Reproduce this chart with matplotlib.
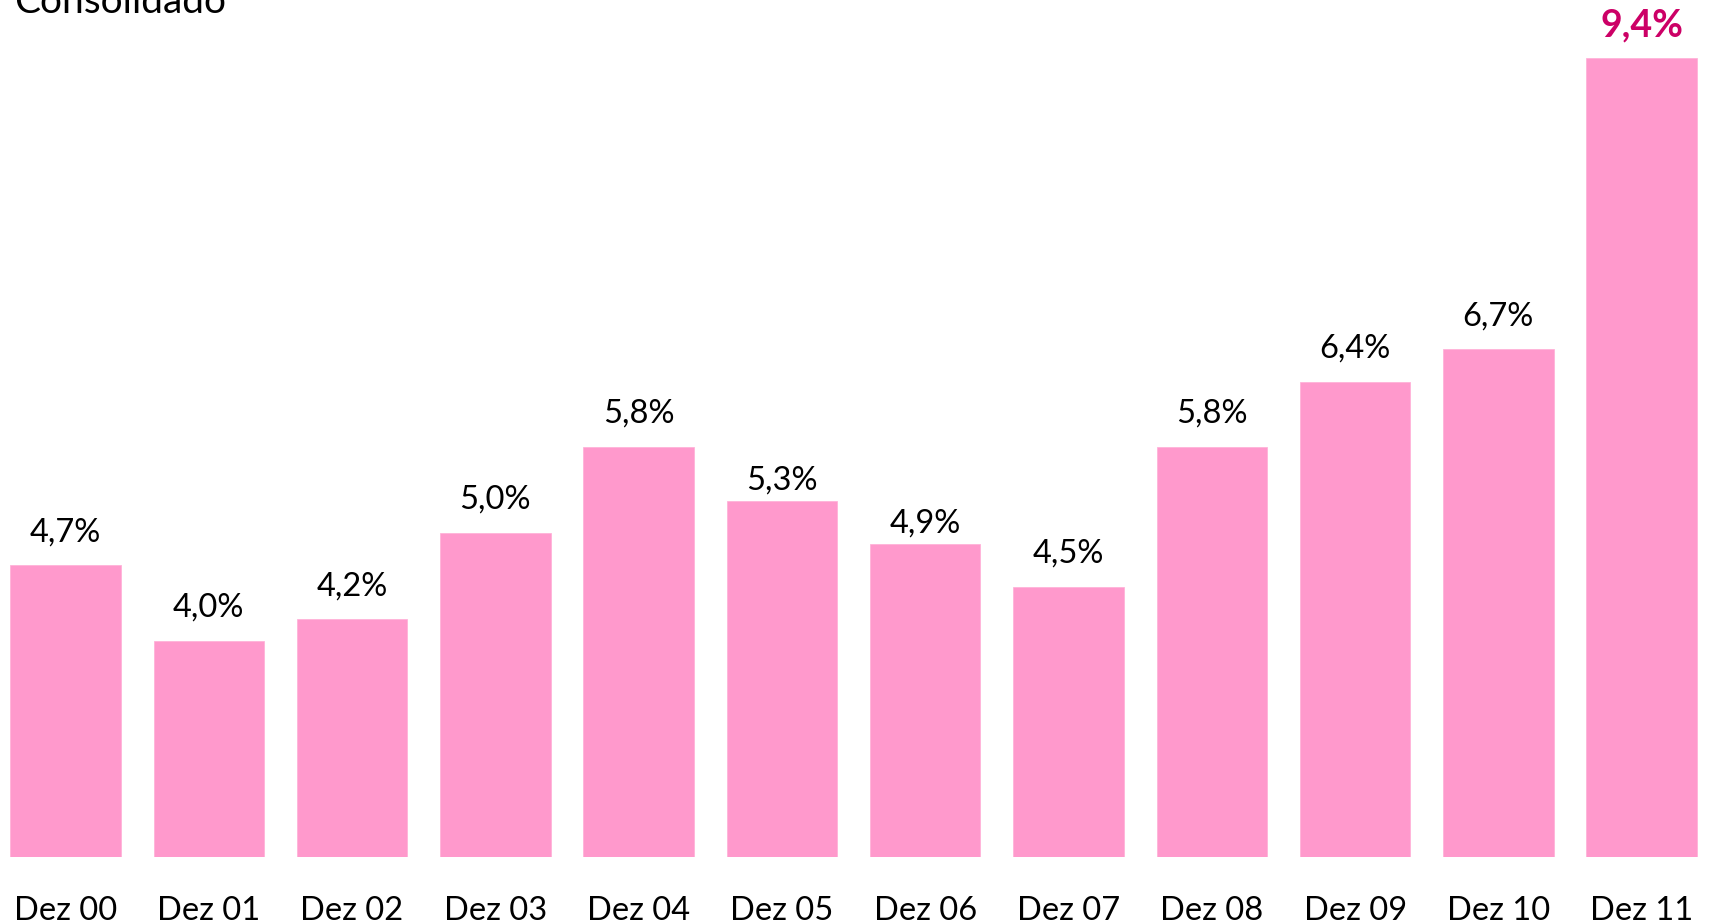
import matplotlib
matplotlib.use('Agg')
import matplotlib.pyplot as plt

plt.rcParams['font.family'] = ['Lato', 'DejaVu Sans']

categories = ['Dez 00', 'Dez 01', 'Dez 02', 'Dez 03', 'Dez 04', 'Dez 05',
              'Dez 06', 'Dez 07', 'Dez 08', 'Dez 09', 'Dez 10', 'Dez 11']
values = [4.7, 4.0, 4.2, 5.0, 5.8, 5.3, 4.9, 4.5, 5.8, 6.4, 6.7, 9.4]
labels = ['4,7%', '4,0%', '4,2%', '5,0%', '5,8%', '5,3%',
          '4,9%', '4,5%', '5,8%', '6,4%', '6,7%', '9,4%']

# label gap above each bar, in pixels (two sit lower in the original)
gaps = [24, 24, 24, 24, 24, 11, 11, 24, 24, 24, 24, 21]

W, H = 1709, 923
fig = plt.figure(figsize=(W / 100, H / 100), dpi=100)
ax = fig.add_axes([0, (H - 857) / H, 1, 857 / H])

x = range(len(categories))
ax.bar(x, values, width=0.77, color='#FF99CC', edgecolor='#FFB3D9', linewidth=0.6)
ax.set_xlim(-0.457, 11.47)
ax.set_ylim(2.0, 2.0 + 857 / 108)

for i, (v, lab) in enumerate(zip(values, labels)):
    if i == len(values) - 1:
        ax.annotate(lab, (i, v), xytext=(0, gaps[i]), textcoords='offset pixels',
                    ha='center', va='baseline', fontsize=27, fontweight='bold',
                    color='#CC0066')
    else:
        ax.annotate(lab, (i, v), xytext=(0, gaps[i]), textcoords='offset pixels',
                    ha='center', va='baseline', fontsize=23.5, color='black')

ax.set_xticks(list(x))
ax.set_xticklabels(categories, fontsize=23.5)
ax.tick_params(axis='x', length=0, pad=28)
ax.set_yticks([])
for s in ax.spines.values():
    s.set_visible(False)

fig.text(14 / W, 1 - 13 / H, 'Consolidado', fontsize=28, ha='left', va='baseline')

fig.savefig('out.png', dpi=100)
